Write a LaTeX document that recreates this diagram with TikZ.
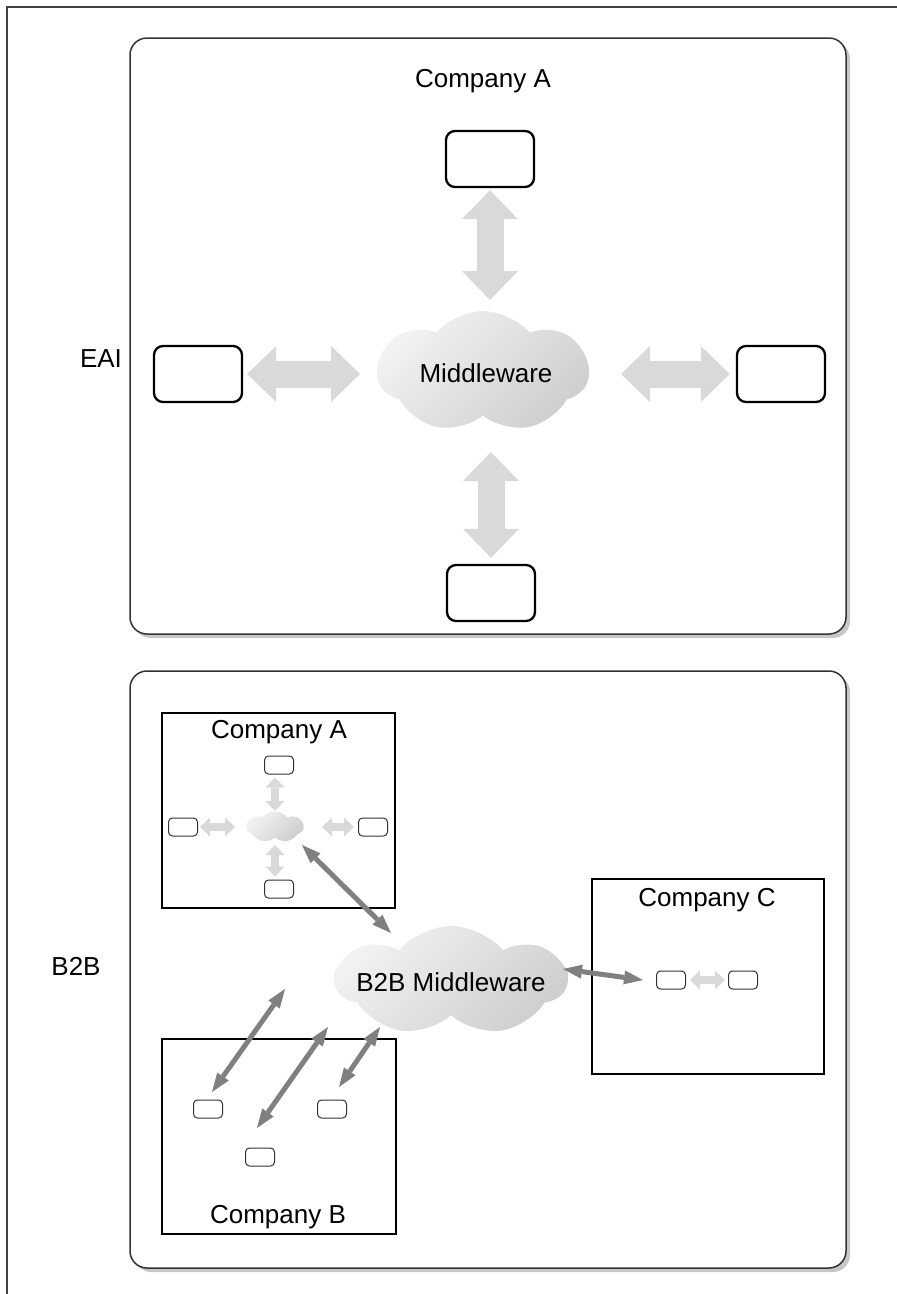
\documentclass[tikz,border=0pt]{standalone}
\usepackage{fontspec}
\setmainfont{Liberation Sans}
\usetikzlibrary{shapes.symbols,arrows.meta,calc,shadows}
\begin{document}
\begin{tikzpicture}[x=1pt,y=-1pt,
  lbl/.style={font=\fontsize{26}{30}\selectfont, inner sep=0pt, anchor=base},
  frameline/.style={draw=black!75, line width=1.5pt},
  panel/.style={draw=black!80, line width=1.5pt, rounded corners=17pt, fill=white,
    inner sep=0pt, minimum width=716pt, minimum height=596pt,
    drop shadow={shadow xshift=4pt, shadow yshift=-4pt, fill=black!22, opacity=1}},
  app/.style={draw=black, line width=2.3pt, rounded corners=9pt, fill=white,
    minimum width=88pt, minimum height=56pt, inner sep=0pt},
  mini/.style={draw=black!80, line width=1pt, rounded corners=4pt, fill=white,
    minimum width=29pt, minimum height=18pt, inner sep=0pt},
  company/.style={draw=black, line width=2pt, inner sep=0pt},
  mwcloud/.style={cloud, cloud puffs=7, cloud puff arc=100, inner sep=0pt,
    top color=black!5, bottom color=black!19, shading angle=45},
  bigflow/.style={line width=27pt, draw=black!15,
    {Triangle[length=29pt,width=56pt,line width=0pt]}-{Triangle[length=29pt,width=56pt,line width=0pt]}},
  smallflow/.style={line width=8pt, draw=black!15,
    {Triangle[length=10pt,width=19pt,line width=0pt]}-{Triangle[length=10pt,width=19pt,line width=0pt]}},
  link/.style={line width=5pt, draw=black!50,
    {Triangle[length=19pt,width=14pt,line width=0pt]}-{Triangle[length=19pt,width=14pt,line width=0pt]}}
]
\useasboundingbox (0,0) rectangle (897,1294);

% outer frame: top and left rules only
\draw[frameline] (897,7) -- (7,7) -- (7,1294);

% the two panels
\node[panel] (eaipanel) at (488,336) {};
\node[panel, minimum height=597pt] (b2bpanel) at (488,969.5) {};

% row labels
\node[lbl] (eailbl) at (101,367) {EAI};
\node[lbl] (b2blbl) at (76,975) {B2B};

% ---------- EAI ----------
\node[lbl] (titleA) at (483,87) {Company A};
\node[mwcloud, minimum width=211pt, minimum height=122pt] (mw) at (483,372) {};
\node[lbl] (mwlbl) at (486,382) {Middleware};
\node[app] (appN) at (490,159) {};
\node[app] (appW) at (198,374) {};
\node[app] (appE) at (781,374) {};
\node[app] (appS) at (491,593) {};

\draw[bigflow, shorten <=2pt, shorten >=72pt] (appN.south) -- (appN.south |- mw.center);
\draw[bigflow, shorten <=6pt, shorten >=80pt] (appS.north) -- (appS.north |- mw.center);
\draw[bigflow, shorten <=4pt, shorten >=123pt] (appW.east) -- (appW.east -| mw.center);
\draw[bigflow, shorten <=6pt, shorten >=138pt] (appE.west) -- (appE.west -| mw.center);

% ---------- B2B ----------
% company A
\node[company, minimum width=233pt, minimum height=195pt] (compA) at (278.5,810.5) {};
\node[lbl] (compAlbl) at (279,738) {Company A};
\node[mwcloud, minimum width=57pt, minimum height=31pt] (acloud) at (275,827) {};
\node[mini] (aN) at (279,765) {};
\node[mini] (aW) at (183,827) {};
\node[mini] (aE) at (373,827) {};
\node[mini] (aS) at (279,889) {};
\draw[smallflow, shorten <=3pt, shorten >=16pt] (aN.south -| acloud) -- (acloud.center);
\draw[smallflow, shorten <=3pt, shorten >=18pt] (aS.north -| acloud) -- (acloud.center);
\draw[smallflow, shorten <=2pt, shorten >=40pt] (aW.east) -- (acloud.center);
\draw[smallflow, shorten <=4pt, shorten >=47pt] (aE.west) -- (acloud.center);

% company C
\node[company, minimum width=232pt, minimum height=195pt] (compC) at (708,976.5) {};
\node[lbl] (compClbl) at (707,906) {Company C};
\node[mini] (c1) at (671,980) {};
\node[mini] (c2) at (743,980) {};
\draw[smallflow, shorten <=4pt, shorten >=3pt] (c1.east) -- (c2.west);

% company B
\node[company, minimum width=234pt, minimum height=195pt] (compB) at (279,1136.5) {};
\node[lbl] (compBlbl) at (278,1223) {Company B};
\node[mini] (b1) at (208,1109) {};
\node[mini] (b2) at (332,1109) {};
\node[mini] (b3) at (260,1157) {};

% shared middleware
\node[mwcloud, minimum width=230pt, minimum height=110pt] (b2bmw) at (451,981) {};
\node[lbl] (b2bmwlbl) at (451,991) {B2B Middleware};

% links between the companies and the shared middleware
\coordinate (l1a) at (302,845);  \coordinate (l1b) at (391,933);
\coordinate (l2a) at (563,969);  \coordinate (l2b) at (643,980);
\coordinate (l3a) at (285,989);  \coordinate (l3b) at (212,1092);
\coordinate (l4a) at (328,1027); \coordinate (l4b) at (257,1128);
\coordinate (l5a) at (380,1027); \coordinate (l5b) at (339,1087);
\draw[link] (l1a) -- (l1b);
\draw[link] (l2a) -- (l2b);
\draw[link] (l3a) -- (l3b);
\draw[link] (l4a) -- (l4b);
\draw[link] (l5a) -- (l5b);
\end{tikzpicture}
\end{document}
